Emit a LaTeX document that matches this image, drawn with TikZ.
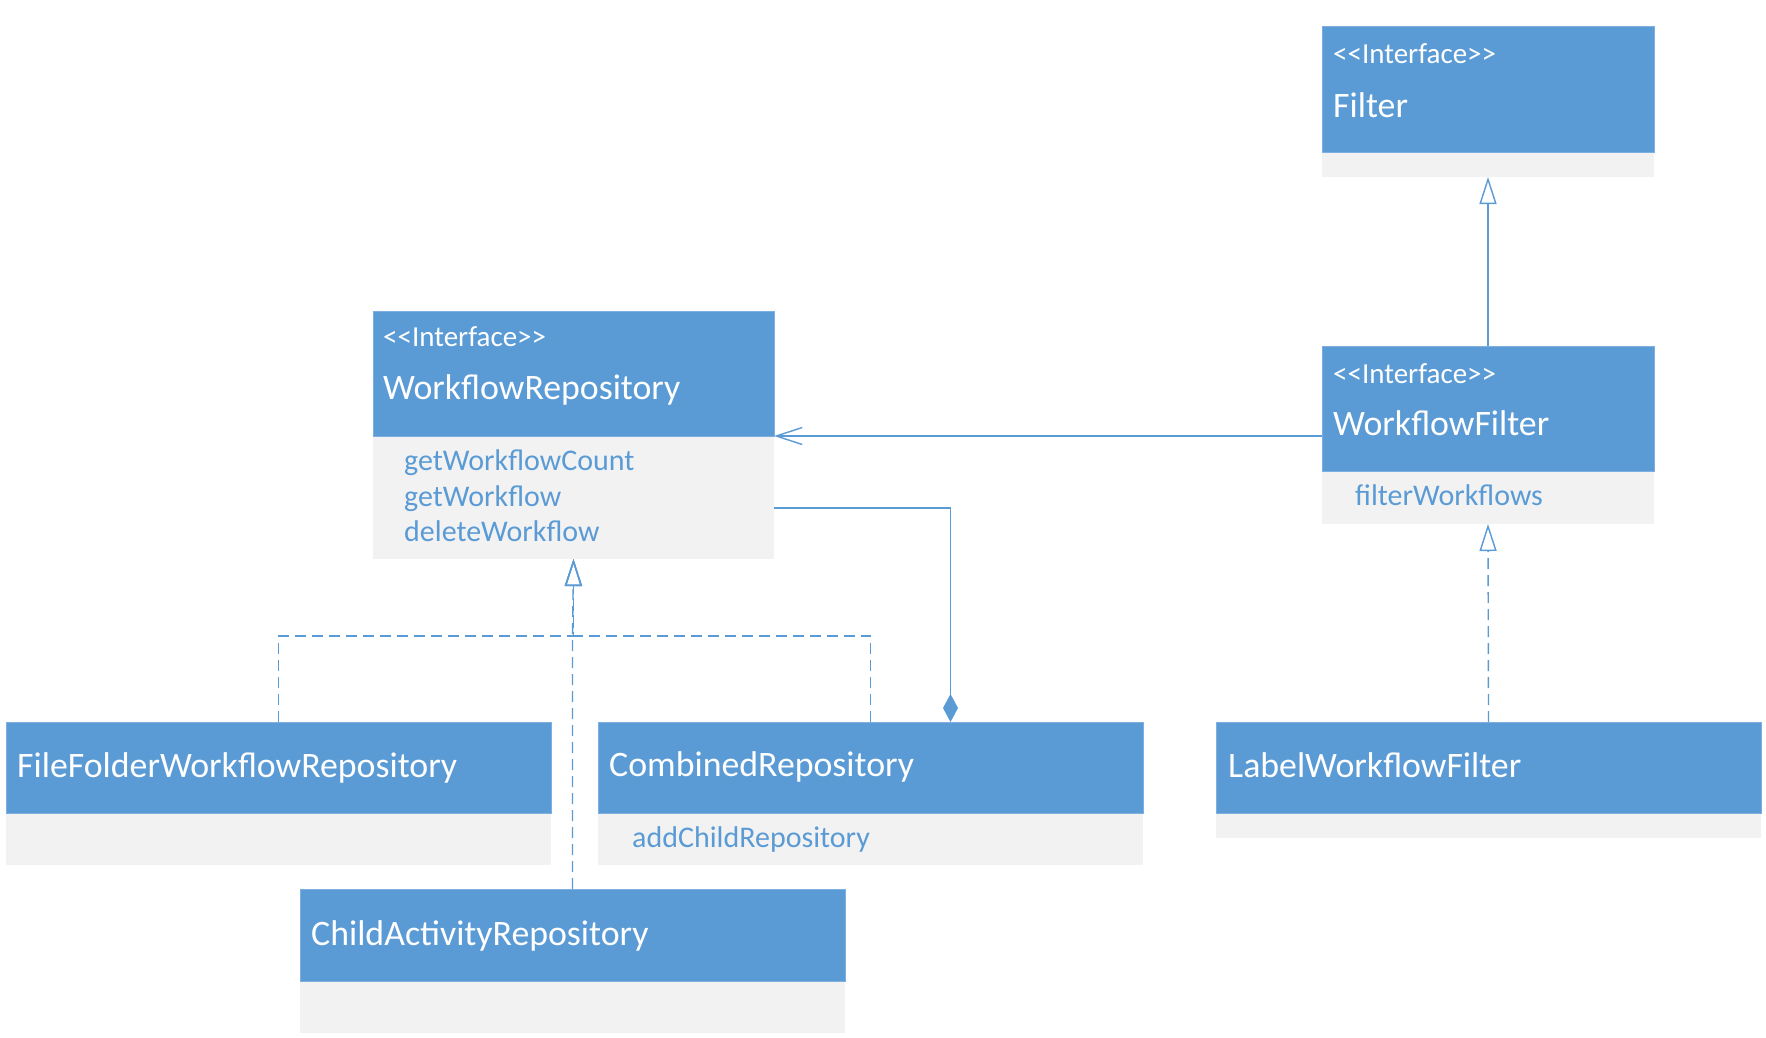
\documentclass[tikz,border=0pt]{standalone}
\usepackage{fontspec}
\setmainfont{Carlito}
\usetikzlibrary{arrows.meta}
\definecolor{umlblue}{HTML}{5B9BD5}
\definecolor{umlgray}{HTML}{F2F2F2}
\definecolor{umledge}{HTML}{7DB0E0}
% plain angle brackets, kept apart so they do not merge into guillemets
\newcommand{\stereotype}[1]{<\kern0pt<#1>\kern0pt>}
\tikzset{
  hdr/.style={draw=umledge, line width=0.6pt, fill=umlblue, anchor=north west, inner sep=0pt, outer sep=0pt},
  bdy/.style={fill=umlgray, anchor=north west, inner sep=0pt, outer sep=0pt},
  stereo/.style={anchor=base west, text=white, inner sep=0pt, font=\fontsize{29}{34}\selectfont},
  cname/.style={anchor=base west, text=white, inner sep=0pt, font=\fontsize{35.8}{42}\selectfont},
  op/.style={anchor=base west, text=umlblue, inner sep=0pt, font=\fontsize{30}{36}\selectfont},
  link/.style={draw=umlblue, line width=1.4pt},
  realize/.style={link, dash pattern=on 11pt off 6pt},
  gen/.style={-{Triangle[open, length=27pt, width=17pt]}},
  dep/.style={-{Straight Barb[length=26pt, width=17pt]}},
  comp/.style={-{Diamond[length=28pt, width=15pt]}},
}
\begin{document}
\begin{tikzpicture}[x=1pt, y=-1pt]
\useasboundingbox (0,0) rectangle (1766,1037);
\fill[white] (0,0) rectangle (1766,1037);

% Filter interface
\node[hdr, minimum width=332pt, minimum height=126pt] (fH) at (1322,26) {};
\node[bdy, minimum width=332pt, minimum height=24pt] (fB) at (1322,153) {};
\node[stereo] (fS) at (1333,63) {\stereotype{Interface}};
\node[cname] (fN) at (1333,117) {Filter};

% WorkflowFilter interface
\node[hdr, minimum width=332pt, minimum height=125pt] (wfH) at (1322,346) {};
\node[bdy, minimum width=332pt, minimum height=52pt] (wfB) at (1322,472) {};
\node[stereo] (wfS) at (1333,383) {\stereotype{Interface}};
\node[cname] (wfN) at (1333,435) {WorkflowFilter};
\node[op] (wfO1) at (1355,505) {filterWorkflows};

% WorkflowRepository interface
\node[hdr, minimum width=401pt, minimum height=125pt] (wrH) at (373,311) {};
\node[bdy, minimum width=401pt, minimum height=122pt] (wrB) at (373,437) {};
\node[stereo] (wrS) at (383,346) {\stereotype{Interface}};
\node[cname] (wrN) at (383,399) {WorkflowRepository};
\node[op] (wrO1) at (404,470) {getWorkflowCount};
\node[op] (wrO2) at (404,506) {getWorkflow};
\node[op] (wrO3) at (404,541) {deleteWorkflow};

% FileFolderWorkflowRepository
\node[hdr, minimum width=545pt, minimum height=91pt] (ffH) at (6,722) {};
\node[bdy, minimum width=545pt, minimum height=51pt] (ffB) at (6,814) {};
\node[cname] (ffN) at (17,777) {FileFolderWorkflowRepository};

% CombinedRepository
\node[hdr, minimum width=545pt, minimum height=91pt] (crH) at (598,722) {};
\node[bdy, minimum width=545pt, minimum height=51pt] (crB) at (598,814) {};
\node[cname] (crN) at (609,776) {CombinedRepository};
\node[op] (crO1) at (632,847) {addChildRepository};

% LabelWorkflowFilter
\node[hdr, minimum width=545pt, minimum height=91pt] (lwH) at (1216,722) {};
\node[bdy, minimum width=545pt, minimum height=24pt] (lwB) at (1216,814) {};
\node[cname] (lwN) at (1228,777) {LabelWorkflowFilter};

% ChildActivityRepository
\node[hdr, minimum width=545pt, minimum height=92pt] (caH) at (300,889) {};
\node[bdy, minimum width=545pt, minimum height=51pt] (caB) at (300,982) {};
\node[cname] (caN) at (311,945) {ChildActivityRepository};

% realizations of WorkflowRepository, joined at one point
\coordinate (jn) at (573.5,636);
\draw[realize, gen] (ffH.north) |- (jn) -- (wrB.south);
\draw[realize, gen] (crH.north) |- (jn) -- (wrB.south);
\draw[realize, gen] (caH.north) -- (caH.north |- jn) -- (wrB.south);

% CombinedRepository owns child repositories
\draw[link, comp] ([yshift=-10pt]wrB.east) -| ([xshift=80pt]crH.north);

% WorkflowFilter uses WorkflowRepository
\draw[link, dep] (wfH.west |- wrH.south east) -- (wrH.south east);

% WorkflowFilter extends Filter
\draw[link, gen] (wfH.north) -- (fB.south);

% LabelWorkflowFilter implements WorkflowFilter
\draw[realize, gen] (lwH.north) -- (wfB.south);
\end{tikzpicture}
\end{document}
